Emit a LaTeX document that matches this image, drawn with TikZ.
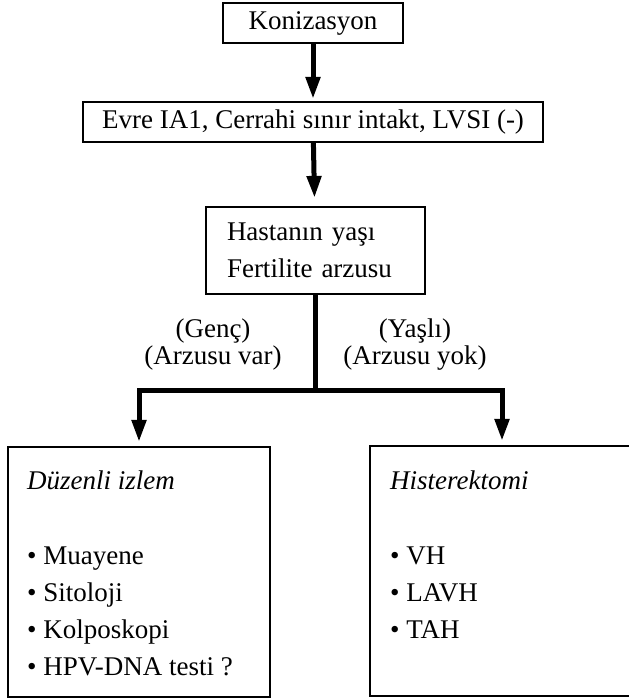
\documentclass[tikz,border=0pt]{standalone}
\usepackage{fontspec}
\setmainfont{Liberation Serif}
\usetikzlibrary{arrows.meta}
\begin{document}
\begin{tikzpicture}[x=1pt, y=-1pt, font=\fontsize{27}{37}\selectfont,
    box/.style={draw, line width=2.2pt, inner sep=0pt},
    trunk/.style={line width=5pt},
    flow/.style={line width=5pt, line join=miter, -{Triangle[width=14pt,length=22pt]}},
    branch/.style={align=center, font=\fontsize{27}{27}\selectfont}]
  \useasboundingbox (0,0) rectangle (628,700);
  % top of the chart
  \node[box, minimum width=180pt, minimum height=40pt] (koni) at (313,23) {Konizasyon};
  \node[box, minimum width=460pt, minimum height=40pt] (evre) at (313,122) {Evre IA1, Cerrahi sınır intakt, LVSI (-)};
  \node[box, minimum width=219pt, minimum height=87pt, text width=177pt, align=left] (yas) at (315.5,250.5) {Hastanın yaşı\\Fertilite arzusu};
  % branch labels
  \node[branch] (genc) at (213,345) {(Genç)\\(Arzusu var)};
  \node[branch] (yasli) at (415,345) {(Yaşlı)\\(Arzusu yok)};
  % result boxes
  \node[box, minimum width=262pt, minimum height=250pt] (izlem) at (139,572) {};
  \node[box, minimum width=264pt, minimum height=250pt] (hist) at (502,571) {};
  \node[anchor=north west, align=left, inner sep=0pt] (izlemtext) at (27,471)
    {\textit{Düzenli izlem}\\[38pt]• Muayene\\• Sitoloji\\• Kolposkopi\\• HPV-DNA testi ?};
  \node[anchor=north west, align=left, inner sep=0pt] (histtext) at (390,471)
    {\textit{Histerektomi}\\[38pt]• VH\\• LAVH\\• TAH};
  % connectors
  \coordinate (split) at (315.5,390);
  \draw[flow, shorten >=2pt] (koni) -- (evre);
  \draw[flow, shorten >=8pt] (evre) -- (yas);
  \draw[trunk] (yas.south) -- (split);
  \draw[flow, shorten >=4pt] (split) -| (izlem.north);
  \draw[flow, shorten >=4pt] (split) -| (hist.north);
\end{tikzpicture}
\end{document}
